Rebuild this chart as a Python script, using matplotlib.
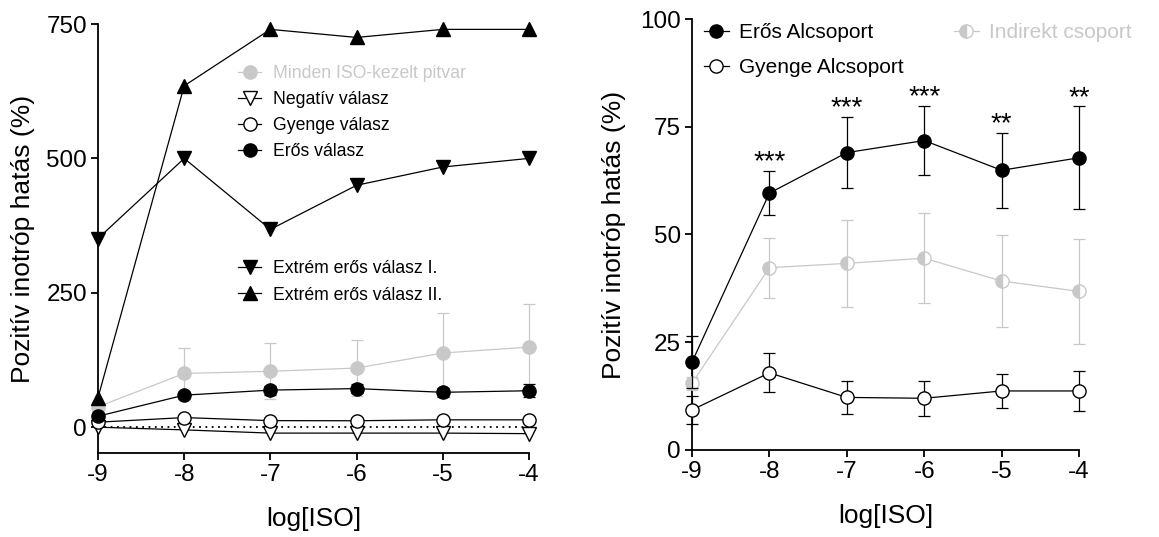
import numpy as np
import matplotlib
matplotlib.use("Agg")
import matplotlib.pyplot as plt

plt.rcParams['font.family'] = ['Liberation Sans', 'DejaVu Sans']

x = [-9, -8, -7, -6, -5, -4]

# left panel
minden = [38, 100, 104, 110, 138, 149]
minden_err = [8, 47, 52, 52, 74, 80]
negativ = [0, -5, -11, -11, -11, -12]
gyenge = [9.3, 17.9, 12.2, 12.0, 13.7, 13.7]
gyenge_err = [3.3, 4.5, 3.8, 4.0, 4.0, 4.7]
eros = [20.4, 59.6, 69.0, 71.8, 64.9, 67.8]
eros_err = [6.0, 5.1, 8.3, 8.0, 8.7, 11.9]
extrem1 = [351, 500, 368, 450, 484, 500]
extrem2 = [55, 635, 740, 725, 740, 740]

# right panel
indirekt = [15.5, 42.3, 43.3, 44.5, 39.2, 36.8]
indirekt_err = [1.5, 7.0, 10.1, 10.5, 10.7, 12.1]
stars = ['', '***', '***', '***', '**', '**']

W, H = 1159, 537
fig = plt.figure(figsize=(W / 100, H / 100), dpi=100)
ax1 = fig.add_axes([98 / W, 1 - 453 / H, 431 / W, 429 / H])
ax2 = fig.add_axes([692 / W, 1 - 450 / H, 387 / W, 431 / H])

grey = '#c8c8c8'
lw = 0.9
ms = 9.5
cap = 4.5

def style(ax):
    for s in ['top', 'right']:
        ax.spines[s].set_visible(False)
    for s in ['left', 'bottom']:
        ax.spines[s].set_linewidth(1.3)
    ax.tick_params(direction='out', length=5, width=1.3, labelsize=17.5, pad=3)
    ax.set_xlim(-9, -4)
    ax.set_xticks(x)
    ax.set_xticklabels(['-9', '-8', '-7', '-6', '-5', '-4'])
    ax.set_xlabel('log[ISO]', fontsize=19, labelpad=15)
    ax.set_ylabel('Pozitív inotróp hatás (%)', fontsize=19, labelpad=8)

# ---- left
ax = ax1
ax.plot([-9, -4], [0, 0], ls=(0, (1, 2.5)), color='black', lw=1.3, zorder=1)
ax.errorbar(x, minden, yerr=minden_err, fmt='none', ecolor=grey, elinewidth=lw,
            capsize=cap, capthick=lw, clip_on=False, zorder=2)
h_minden, = ax.plot(x, minden, '-o', color=grey, mfc=grey, mec=grey, ms=ms, lw=lw,
                    clip_on=False, zorder=3, label='Minden ISO-kezelt pitvar')
ax.errorbar(x, eros, yerr=eros_err, fmt='none', ecolor='black', elinewidth=lw,
            capsize=cap, capthick=lw, clip_on=False, zorder=2)
h_neg, = ax.plot(x, negativ, '-v', color='black', mfc='white', mec='black', ms=ms + 1,
                 lw=lw, mew=1, clip_on=False, zorder=4, label='Negatív válasz')
h_gy, = ax.plot(x, gyenge, '-o', color='black', mfc='white', mec='black', ms=ms, lw=lw,
                mew=1, clip_on=False, zorder=5, label='Gyenge válasz')
h_er, = ax.plot(x, eros, '-o', color='black', mfc='black', mec='black', ms=ms, lw=lw,
                clip_on=False, zorder=5, label='Erős válasz')
h_e1, = ax.plot(x, extrem1, '-v', color='black', ms=ms + 1, lw=lw, clip_on=False,
                zorder=6, label='Extrém erős válasz I.')
h_e2, = ax.plot(x, extrem2, '-^', color='black', ms=ms + 1, lw=lw, clip_on=False,
                zorder=6, label='Extrém erős válasz II.')
ax.set_ylim(-48, 750)
ax.set_yticks([0, 250, 500, 750])
style(ax)

leg1 = ax.legend(handles=[h_minden, h_neg, h_gy, h_er], loc='upper left',
                 bbox_to_anchor=(0.325, 0.905), frameon=False, fontsize=12.7,
                 handlelength=1.3, handletextpad=0.7, labelspacing=0.52,
                 borderpad=0, borderaxespad=0)
leg1.get_texts()[0].set_color(grey)
ax.add_artist(leg1)
ax.legend(handles=[h_e1, h_e2], loc='upper left', bbox_to_anchor=(0.325, 0.45),
          frameon=False, fontsize=12.7, handlelength=1.3, handletextpad=0.7,
          labelspacing=0.55, borderpad=0, borderaxespad=0)

# ---- right
ax = ax2
ax.errorbar(x, indirekt, yerr=indirekt_err, fmt='none', ecolor=grey, elinewidth=lw,
            capsize=cap, capthick=lw, clip_on=False, zorder=2)
h_ind, = ax.plot(x, indirekt, '-o', color=grey, mfc=grey, mfcalt='white', mec=grey,
                 fillstyle='left', ms=ms, lw=lw, mew=1, clip_on=False, zorder=3,
                 label='Indirekt csoport')
ax.errorbar(x, gyenge, yerr=gyenge_err, fmt='none', ecolor='black', elinewidth=lw,
            capsize=cap, capthick=lw, clip_on=False, zorder=4)
h_gy2, = ax.plot(x, gyenge, '-o', color='black', mfc='white', mec='black', ms=ms,
                 lw=lw, mew=1, clip_on=False, zorder=5, label='Gyenge Alcsoport')
ax.errorbar(x, eros, yerr=eros_err, fmt='none', ecolor='black', elinewidth=lw,
            capsize=cap, capthick=lw, clip_on=False, zorder=4)
h_er2, = ax.plot(x, eros, '-o', color='black', mfc='black', mec='black', ms=ms,
                 lw=lw, clip_on=False, zorder=5, label='Erős Alcsoport')
for xi, yi, ei, s in zip(x, eros, eros_err, stars):
    if s:
        ax.text(xi, yi + ei - 1.0, s, ha='center', va='bottom', fontsize=20)
ax.set_ylim(0, 100)
ax.set_yticks([0, 25, 50, 75, 100])
style(ax)
ax.yaxis.labelpad = 10

leg2 = ax.legend(handles=[h_er2, h_gy2, h_ind], loc='upper left', ncol=2,
                 bbox_to_anchor=(0.03, 0.99), frameon=False, fontsize=15,
                 handlelength=1.2, handletextpad=0.5, labelspacing=0.75,
                 columnspacing=2.4, borderpad=0, borderaxespad=0)
leg2.get_texts()[2].set_color(grey)

fig.savefig('out.png', dpi=100)
